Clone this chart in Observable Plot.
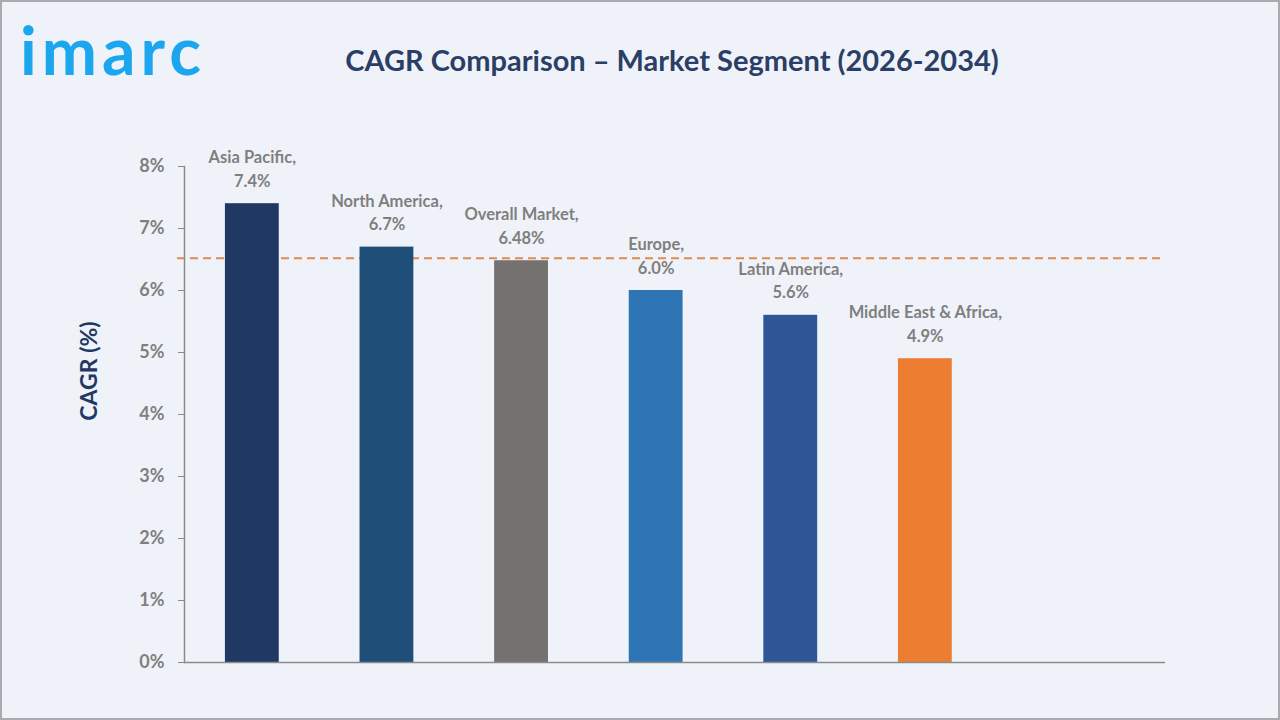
<!DOCTYPE html>
<html>
<head>
<meta charset="utf-8">
<script src="https://cdn.jsdelivr.net/npm/d3@7"></script>
<script src="https://cdn.jsdelivr.net/npm/@observablehq/plot@0.6"></script>
<style>
  body { margin: 0; background: #ffffff; }
  #page { position: relative; width: 1280px; height: 720px; background: #eff3f9; overflow: hidden; font-family: Lato, "Open Sans", sans-serif; }
  #frame { position: absolute; inset: 0; border: 2px solid #a8aaad; box-sizing: border-box; pointer-events: none; }
  #logo { position: absolute; left: 20px; top: 17px; font-family: Lato, sans-serif; font-weight: 700; font-size: 66px; letter-spacing: 5px; color: #1ca6ee; line-height: 1; }
  #title { position: absolute; left: 672px; top: 42px; transform: translateX(-50%); white-space: nowrap; font-weight: 700; font-size: 29px; color: #2b3e66; }
  #ylabel { position: absolute; left: 88px; top: 371px; transform: translate(-50%, -50%) rotate(-90deg); white-space: nowrap; font-weight: 700; font-size: 23px; color: #1f3864; }
  #chart { position: absolute; left: 0; top: 0; }
</style>
</head>
<body>
<div id="page">
  <div id="logo">imarc</div>
  <div id="title">CAGR Comparison – Market Segment (2026-2034)</div>
  <div id="ylabel">CAGR (%)</div>
  <div id="chart"></div>
  <div id="frame"></div>
</div>
<script>
// Regional CAGR figures, 2026-2034
const regions = ["Asia Pacific", "North America", "Overall Market", "Europe", "Latin America", "Middle East & Africa"];
const cagr = [7.4, 6.7, 6.48, 6.0, 5.6, 4.9];
const cagrLabels = ["7.4%", "6.7%", "6.48%", "6.0%", "5.6%", "4.9%"];
const barColors = ["#1f3864", "#1f4e79", "#767171", "#2e75b6", "#2f5597", "#ed7d31"];
const yTicks = [0, 1, 2, 3, 4, 5, 6, 7, 8];
const yTickLabels = ["0%", "1%", "2%", "3%", "4%", "5%", "6%", "7%", "8%"];
const referenceCagr = 6.52;

const rows = regions.map((region, i) => ({
  region,
  value: cagr[i],
  color: barColors[i],
  label: `${region},\n${cagrLabels[i]}`
}));

const chart = Plot.plot({
  width: 1280,
  height: 720,
  marginTop: 166,
  marginBottom: 58,
  marginLeft: 184,
  marginRight: 115,
  style: { background: "transparent", fontFamily: "Lato, 'Open Sans', sans-serif", overflow: "visible" },
  x: { type: "band", domain: regions, paddingInner: 0.6, paddingOuter: 0.944, align: 0.161, round: false, axis: null },
  y: { domain: [0, 8], ticks: yTicks, label: null },
  marks: [
    // reference line for the overall growth rate, behind the bars
    Plot.ruleY([referenceCagr], { stroke: "#e08b4f", strokeWidth: 2, strokeDasharray: "8,5", insetLeft: -7 }),
    Plot.barY(rows, { x: "region", y: "value", fill: "color" }),
    Plot.ruleY([0], { stroke: "#8a8a8a", strokeWidth: 1.5 }),
    Plot.frame({ anchor: "left", stroke: "#8a8a8a", strokeWidth: 1.5 }),
    Plot.axisY({
      ticks: yTicks,
      tickFormat: (d) => yTickLabels[yTicks.indexOf(d)],
      tickSize: 6,
      tickPadding: 14,
      stroke: "#8a8a8a",
      fill: "#7f7f7f",
      fontSize: 18,
      fontWeight: 700,
      label: null
    }),
    Plot.text(rows, {
      x: "region",
      y: "value",
      text: "label",
      lineAnchor: "bottom",
      lineHeight: 1.42,
      dy: -17,
      fill: "#7f7f7f",
      fontSize: 16.5,
      fontWeight: 700
    })
  ]
});

document.getElementById("chart").appendChild(chart);
</script>
</body>
</html>
